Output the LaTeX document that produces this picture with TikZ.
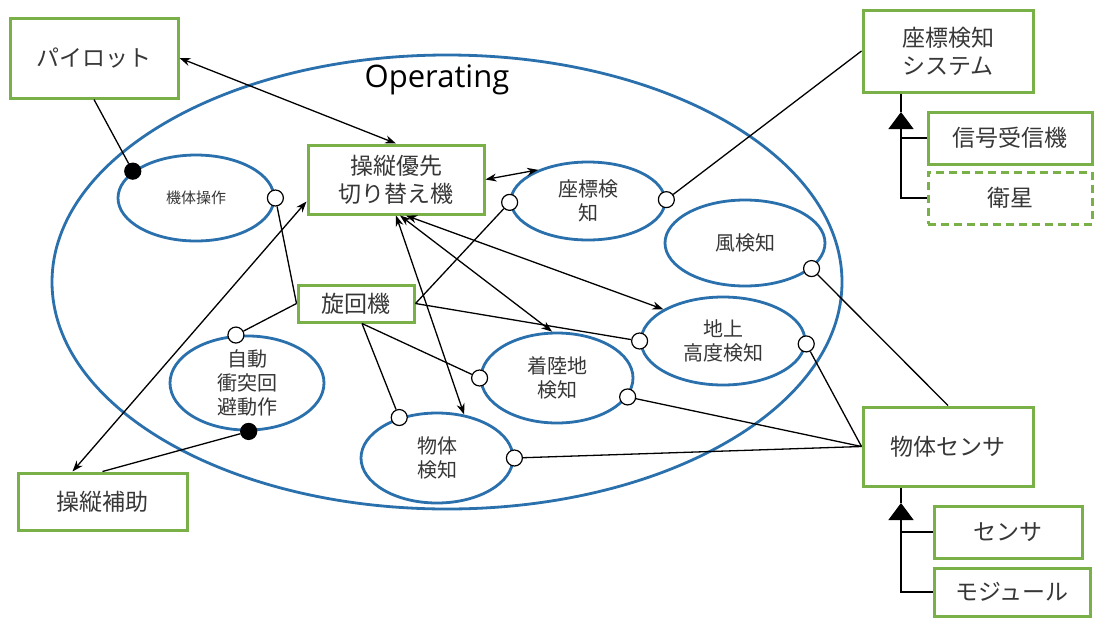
\documentclass[tikz,border=0pt]{standalone}
\usepackage{fontspec}
\newfontfamily\jpfont{Noto Sans CJK JP}
\newfontfamily\latfont{Open Sans}
\usetikzlibrary{shapes.geometric,arrows.meta,calc}
\definecolor{boxgreen}{RGB}{122,176,72}
\definecolor{ucblue}{RGB}{42,112,172}
\definecolor{txt}{RGB}{55,55,55}

\begin{document}
\begin{tikzpicture}[x=1pt,y=-1pt,
  box/.style={draw=boxgreen,line width=3pt,fill=white,rectangle,inner sep=0pt,
    align=center,text=txt,font=\jpfont\fontsize{23}{28}\selectfont},
  uc/.style={draw=ucblue,line width=2.8pt,ellipse,inner sep=0pt,align=center,
    text=txt,font=\jpfont\fontsize{20}{24}\selectfont},
  port/.style={circle,draw=black,line width=1.2pt,fill=white,minimum size=16pt,inner sep=0pt},
  portfilled/.style={port,fill=black},
  link/.style={draw=black,line width=1.3pt},
  biarrow/.style={link,{Stealth[length=11pt,width=8pt]}-{Stealth[length=11pt,width=8pt]}},
  gen/.style={link,-{Triangle[length=17pt,width=25pt]}}
]
\useasboundingbox[fill=white] (0,0) rectangle (1094,619);

% system boundary
\node[draw=ucblue,line width=2.8pt,ellipse,minimum width=790pt,minimum height=454pt,inner sep=0pt] (op) at (447,282) {};
\node[font=\latfont\fontsize{31}{36}\selectfont,text=black] (title) at (437,80) {Operating};

% actors and components
\node[box,minimum width=168pt,minimum height=80pt] (pilot) at (94,58) {パイロット};
\node[box,minimum width=176pt,minimum height=69pt] (sw) at (396,179.5) {操縦優先\\切り替え機};
\node[box,minimum width=116pt,minimum height=37pt] (senkai) at (356,303.5) {旋回機};
\node[box,minimum width=170pt,minimum height=82pt] (zsys) at (948,51) {座標検知\\システム};
\node[box,minimum width=164pt,minimum height=52pt] (sig) at (1010,138) {信号受信機};
\node[box,dash pattern=on 8pt off 5pt,minimum width=164pt,minimum height=52pt] (sat) at (1010,198) {衛星};
\node[box,minimum width=170pt,minimum height=79pt] (msens) at (948,446.5) {物体センサ};
\node[box,minimum width=148pt,minimum height=52pt] (sensor) at (1008,532) {センサ};
\node[box,minimum width=156pt,minimum height=48pt] (module) at (1012,592) {モジュール};
\node[box,minimum width=169pt,minimum height=57pt] (hojo) at (102.5,501.5) {操縦補助};

% use cases
\node[uc,minimum width=156pt,minimum height=86pt,font=\jpfont\fontsize{15}{18}\selectfont] (kitai) at (196,198) {機体操作};
\node[uc,minimum width=154pt,minimum height=78pt] (zahyo) at (588,201) {座標検\\知};
\node[uc,minimum width=160pt,minimum height=86pt] (kaze) at (745,243) {風検知};
\node[uc,minimum width=164pt,minimum height=88pt] (chijo) at (723,341) {地上\\高度検知};
\node[uc,minimum width=152pt,minimum height=90pt] (chakuriku) at (557,378) {着陸地\\検知};
\node[uc,minimum width=152pt,minimum height=90pt] (butai) at (437,458) {物体\\検知};
\node[uc,minimum width=154pt,minimum height=88pt] (jido) at (247,383) {自動\\衝突回\\避動作};

% ports
\node[portfilled] (pkitaiin) at (kitai.157) {};
\node[port] (pkitaiout) at (kitai.0) {};
\node[port] (pzahyol) at (zahyo.181) {};
\node[port] (pzahyor) at (zahyo.1) {};
\node[port] (pkaze) at (kaze.339) {};
\node[port] (pchijol) at (chijo.180) {};
\node[port] (pchijor) at (chijo.358) {};
\node[port] (pchakl) at (chakuriku.180) {};
\node[port] (pchakr) at (chakuriku.345) {};
\node[port] (pbutaitl) at (butai.133) {};
\node[port] (pbutair) at (butai.0) {};
\node[port] (pjidotop) at (jido.103) {};
\node[portfilled] (pjidobot) at (jido.272) {};

% connectors
\draw[biarrow] (pilot.east) -- (sw.north);
\draw[link] (pilot.south) -- (pkitaiin);
\draw[link] (pkitaiout) -- (senkai.west);
\draw[link] (senkai.west) -- (pjidotop);
\draw[biarrow] ([xshift=-30pt]hojo.north) -- ([yshift=-22pt]sw.west);
\draw[link] (hojo.north) -- (pjidobot);
\draw[biarrow] (sw.east) -- (zahyo.148);
\draw[link] (pzahyol) -- (senkai.east);
\draw[link] (pzahyor) -- (zsys.west);
\draw[biarrow] (sw.south) -- (butai.58);
\draw[biarrow] ([xshift=4pt]sw.south) -- (chakuriku.96);
\draw[biarrow] ([xshift=10pt]sw.south) -- (chijo.152);
\draw[link] (senkai.east) -- (pchijol);
\draw[link] ([xshift=6pt]senkai.south) -- (pchakl);
\draw[link] ([xshift=6pt]senkai.south) -- (pbutaitl);
\draw[link] (msens.west) -- (pchijor);
\draw[link] (msens.west) -- (pchakr);
\draw[link] (msens.west) -- (pbutair);
\draw[link] (msens.north) -- (pkaze);

% generalisation: coordinate system
\coordinate (zt) at (901,112);
\draw[link] (zsys.south -| zt) -- (zt);
\draw[link] (sig.west) -- (sig.west -| zt);
\draw[gen] (sat.west) -| (zt);

% generalisation: object sensor
\coordinate (mt) at (901,503);
\draw[link] (msens.south -| mt) -- (mt);
\draw[link] (sensor.west) -- (sensor.west -| mt);
\draw[gen] (module.west) -| (mt);
\end{tikzpicture}
\end{document}
